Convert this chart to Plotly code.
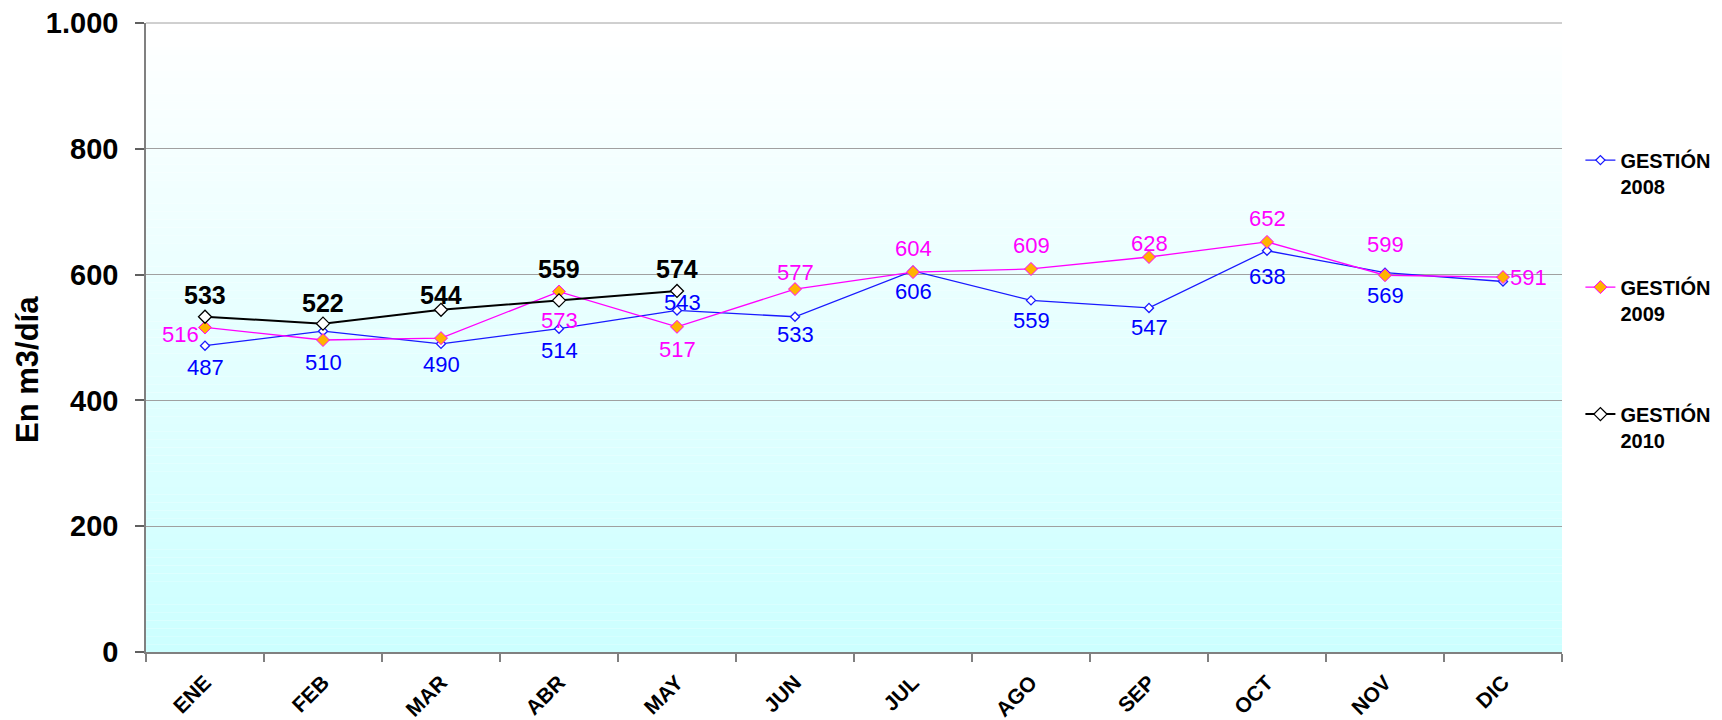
import plotly.graph_objects as go

months = ["ENE", "FEB", "MAR", "ABR", "MAY", "JUN", "JUL", "AGO", "SEP", "OCT", "NOV", "DIC"]

g2008 = [487, 510, 490, 514, 543, 533, 606, 559, 547, 638, 603, 589]
g2009 = [516, 496, 499, 573, 517, 577, 604, 609, 628, 652, 599, 596]
g2010 = [533, 522, 544, 559, 574]

lbl2008 = ["487", "510", "490", "514", "543", "533", "606", "559", "547", "638", "569", ""]
lbl2009 = ["516", "", "", "573", "517", "577", "604", "609", "628", "652", "599", "591"]
lbl2010 = ["533", "522", "544", "559", "574"]

# label pixel offsets (style only)
dx2008 = [0, 0, 0, 0, 5, 0, 0, 0, 0, 0, 0, 0]
dy2008 = [-22, -31, -21, -22, 8, -18, -21, -20, -20, -26, -23, 0]
dx2009 = [-25, 0, 0, 0, 0, 0, 0, 0, 0, 0, 0, 25]
dy2009 = [-7, 0, 0, -29, -23, 17, 24, 23, 13, 23, 31, 0]
dy2010 = [22, 21, 15, 31, 22]

FONT = "Arial, Liberation Sans, sans-serif"
C08, C09 = "#1a1aff", "#ff00ff"

fig = go.Figure()

fig.add_trace(go.Scatter(
    x=months, y=g2008, name="GESTIÓN<br>2008", mode="lines+markers",
    line=dict(color=C08, width=1.3),
    marker=dict(symbol="diamond", size=7, color="white", line=dict(color=C08, width=1.3)),
    legendgroup="a", cliponaxis=False,
))
fig.add_trace(go.Scatter(
    x=months, y=g2009, name="GESTIÓN<br>2009", mode="lines+markers",
    line=dict(color=C09, width=1.3),
    marker=dict(symbol="diamond", size=10, color="#ffb300", line=dict(color=C09, width=1)),
    legendgroup="b", cliponaxis=False,
))
fig.add_trace(go.Scatter(
    x=months[:len(g2010)], y=g2010, name="GESTIÓN<br>2010", mode="lines+markers",
    line=dict(color="black", width=2),
    marker=dict(symbol="diamond", size=10, color="white", line=dict(color="black", width=1.3)),
    legendgroup="c", cliponaxis=False,
))

# data labels
for xs, ys, ls, dxs, dys, col, sz, wt in [
    (months, g2008, lbl2008, dx2008, dy2008, "#0000ff", 22, "normal"),
    (months, g2009, lbl2009, dx2009, dy2009, "#ff00ff", 22, "normal"),
    (months[:len(g2010)], g2010, lbl2010, [0] * len(g2010), dy2010, "black", 25, "bold"),
]:
    for x, y, t, dx, dy in zip(xs, ys, ls, dxs, dys):
        if not t:
            continue
        fig.add_annotation(x=x, y=y, text=t, showarrow=False, xref="x", yref="y",
                           xanchor="center", yanchor="middle", xshift=dx, yshift=dy,
                           font=dict(family=FONT, size=sz, color=col, weight=wt))

# gradient background (white at top to light cyan at bottom)
n = 80
shapes = []
for i in range(n):
    t = i / (n - 1)
    r = int(round(255 - (255 - 204) * (1 - t)))
    shapes.append(dict(type="rect", xref="paper", yref="paper", x0=0, x1=1,
                       y0=i / n, y1=(i + 1) / n, fillcolor=f"rgb({r},255,255)",
                       line=dict(width=0), layer="below"))
# top gridline (coincides with the plot's upper edge)
shapes.append(dict(type="line", xref="paper", yref="paper", x0=0, x1=1, y0=1, y1=1,
                   line=dict(color="#a0a0a0", width=1), layer="below"))

fig.update_layout(
    width=1714, height=712,
    margin=dict(l=138, r=160, t=15, b=68, autoexpand=False),
    paper_bgcolor="white", plot_bgcolor="white",
    separators=",.",
    shapes=shapes,
    showlegend=True,
    legend=dict(x=1.013, xanchor="left", y=0.813, yanchor="top",
                font=dict(family=FONT, size=20, color="black", weight="bold"),
                tracegroupgap=72, valign="top", bgcolor="rgba(0,0,0,0)"),
    font=dict(family=FONT),
)

fig.update_xaxes(
    type="category", tickson="boundaries", ticks="outside", ticklen=8,
    tickcolor="#808080", tickwidth=1.5,
    showline=True, linecolor="#808080", linewidth=2,
    showgrid=False, tickangle=-45, automargin=False,
    tickfont=dict(family=FONT, size=21, color="black", weight="bold"),
    ticklabelstandoff=8, ticklabeloverflow="allow",
    range=[-0.5, 11.5],
)
fig.update_yaxes(
    range=[0, 1000], tickvals=[0, 200, 400, 600, 800, 1000], tickformat=",d",
    ticks="outside", ticklen=9, tickcolor="#606060", tickwidth=1.5,
    showline=True, linecolor="#808080", linewidth=1.5,
    showgrid=True, gridcolor="#a0a0a0", gridwidth=1,
    zeroline=False, automargin=False,
    tickfont=dict(family=FONT, size=29, color="black", weight="bold"),
    ticklabelstandoff=11, ticklabeloverflow="allow",
)

fig.add_annotation(
    text="En m3/día", textangle=-90, xref="paper", yref="paper",
    x=(28 - 146) / 1416, y=(652 - 370) / 629, xanchor="center", yanchor="middle",
    showarrow=False,
    font=dict(family=FONT, size=31, color="black", weight="bold"),
)

fig.write_html("out.html")
